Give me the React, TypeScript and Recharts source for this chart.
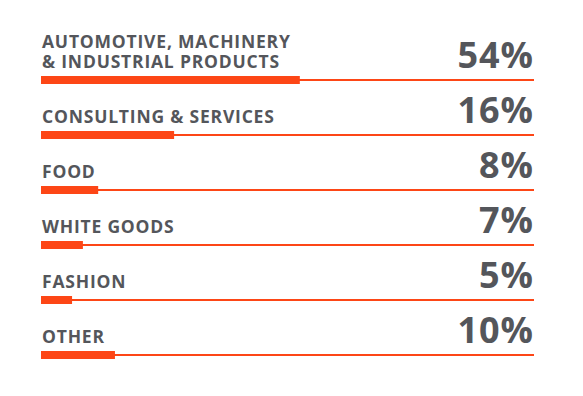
import React from 'react';
import { BarChart, Bar, XAxis, YAxis, LabelList } from 'recharts';

// categories, shares as printed, and bar lengths (track = 100)
const sectors = ['AUTOMOTIVE, MACHINERY\n& INDUSTRIAL PRODUCTS', 'CONSULTING & SERVICES', 'FOOD', 'WHITE GOODS', 'FASHION', 'OTHER'];
const shares = ['54%', '16%', '8%', '7%', '5%', '10%'];
const barLengths = [52.5, 27, 11.6, 8.5, 6.3, 15];

const data = sectors.map((name, i) => ({ name, share: shares[i], length: barLengths[i] }));

const W = 583;
const H = 396;
const margin = { top: 52, right: 49, bottom: 14, left: 41 };
const ORANGE = '#fd4616';
const GREY = '#54565b';
const FONT = '"Open Sans", sans-serif';

const Track = (props: any) => (
  <rect x={props.x} y={props.y + props.height / 2 - 1} width={props.width} height={2} fill={ORANGE} />
);

const NameLabel = (props: any) => {
  const { x, y, height, value } = props;
  const lines = String(value).split('\n');
  const base = y + height / 2 - 12;
  return (
    <g>
      {lines.map((l, i) => (
        <text key={i} x={x + 1} y={base - (lines.length - 1 - i) * 20} fill={GREY} fontFamily={FONT}
          fontWeight={700} fontSize={17.5} letterSpacing={0.8}>
          {l}
        </text>
      ))}
    </g>
  );
};

const ShareLabel = (props: any) => {
  const { y, height, value } = props;
  return (
    <text x={W - margin.right} y={y + height / 2 - 12} textAnchor="end" fill={GREY} fontFamily={FONT}
      fontWeight={700} fontSize={36} letterSpacing={1}>
      {value}
    </text>
  );
};

export default function App() {
  return (
    <div style={{ position: 'absolute', left: 0, top: 0, width: W, height: H, background: '#fff' }}>
      <BarChart width={W} height={H} data={data} layout="vertical" margin={margin}>
        <XAxis type="number" domain={[0, 100]} hide />
        <YAxis type="category" dataKey="name" hide />
        <Bar dataKey="length" fill={ORANGE} barSize={8} background={Track} isAnimationActive={false}>
          <LabelList dataKey="name" content={NameLabel} />
          <LabelList dataKey="share" content={ShareLabel} />
        </Bar>
      </BarChart>
    </div>
  );
}
